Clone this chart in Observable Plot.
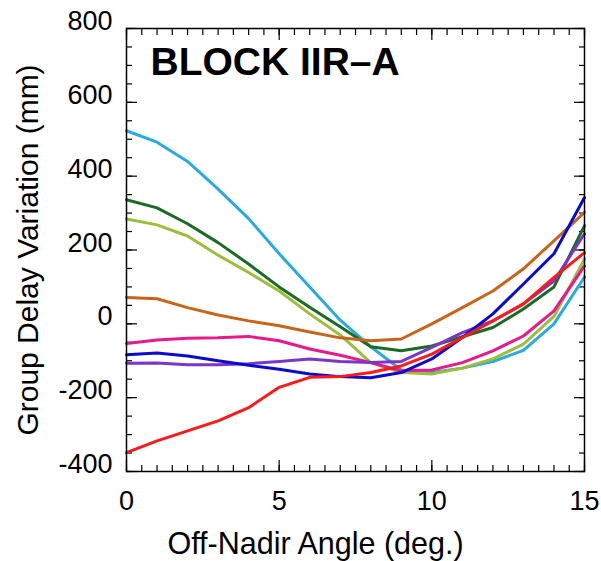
<!DOCTYPE html>
<html><head><meta charset="utf-8">
<script src="https://cdn.jsdelivr.net/npm/d3@7"></script>
<script src="https://cdn.jsdelivr.net/npm/@observablehq/plot@0.6"></script>
<style>body{margin:0;background:#fff} svg{display:block}</style>
</head><body><div id="chart"></div>
<script>
const angles = [0,1,2,3,4,5,6,7,8,9,10,11,12,13,14,15];
const cyanSeries   = [523, 492, 440, 365, 285, 190, 100, 10, -62, -125, -132, -120, -102, -72, 0, 127];
const dkGreenSeries= [336, 314, 271, 220, 162, 100, 45, -8, -62, -73, -60, -35, -10, 40, 100, 266];
const ylGreenSeries= [284, 268, 238, 186, 139, 89, 27, -30, -105, -132, -136, -120, -95, -55, 20, 176];
const orangeSeries = [71, 68, 44, 24, 8, -5, -22, -38, -46, -41, 0, 44, 89, 149, 225, 302];
const pinkSeries   = [-53, -44, -39, -38, -34, -46, -68, -85, -105, -127, -125, -105, -73, -33, 35, 157];
const purpleSeries = [-107, -106, -111, -111, -108, -102, -95, -102, -105, -102, -64, -24, 8, 54, 116, 244];
const blueSeries   = [-84, -79, -87, -100, -112, -123, -136, -143, -146, -132, -95, -37, 27, 108, 190, 342];
const redSeries    = [-349, -317, -290, -263, -227, -172, -145, -143, -132, -114, -82, -37, 8, 54, 126, 193];
const seriesNames  = ["cyan","dkgreen","ylgreen","orange","pink","purple","blue","red"];
const seriesValues = [cyanSeries, dkGreenSeries, ylGreenSeries, orangeSeries, pinkSeries, purpleSeries, blueSeries, redSeries];
const seriesColors = ["#29aae1","#1b6b22","#9bbf3b","#c8651b","#e8198a","#7a35c9","#0b0bd0","#ff1a1a"];
const xTickValues = [0,5,10,15];
const yTickValues = [-400,-200,0,200,400,600,800];
const chartTitle = "BLOCK IIR–A";
const xLabel = "Off-Nadir Angle (deg.)";
const yLabel = "Group Delay Variation (mm)";

const rows = [];
seriesNames.forEach((name, i) => {
  seriesValues[i].forEach((v, j) => rows.push({series: name, angle: angles[j], value: v}));
});
const xMinor = d3.range(0, 15.001, 0.5);
const yMinor = d3.range(-400, 800.001, 50);
const font = "'Liberation Sans', Arial, Helvetica, sans-serif";
const noText = () => "";

const chart = Plot.plot({
  width: 601, height: 561,
  marginLeft: 126, marginRight: 17, marginTop: 28, marginBottom: 90,
  style: {fontFamily: font, background: "#fff", color: "#000"},
  x: {domain: [0, 15]},
  y: {domain: [-400, 800]},
  color: {domain: seriesNames, range: seriesColors},
  marks: [
    Plot.axisX(xMinor, {anchor: "bottom", tickSize: -6, tickFormat: noText, label: null, strokeWidth: 1.2}),
    Plot.axisX(xMinor, {anchor: "top", tickSize: -6, tickFormat: noText, label: null, strokeWidth: 1.2}),
    Plot.axisX(xTickValues, {anchor: "bottom", tickSize: -11, tickFormat: noText, label: null, strokeWidth: 1.2}),
    Plot.axisX(xTickValues, {anchor: "top", tickSize: -11, tickFormat: noText, label: null, strokeWidth: 1.2}),
    Plot.axisX(xTickValues, {anchor: "bottom", tickSize: 0, tickPadding: 19, fontSize: 27, tickFormat: d => String(d), label: null}),
    Plot.axisY(yMinor, {anchor: "left", tickSize: -6, tickFormat: noText, label: null, strokeWidth: 1.2}),
    Plot.axisY(yMinor, {anchor: "right", tickSize: -6, tickFormat: noText, label: null, strokeWidth: 1.2}),
    Plot.axisY(yTickValues, {anchor: "left", tickSize: -11, tickFormat: noText, label: null, strokeWidth: 1.2}),
    Plot.axisY(yTickValues, {anchor: "right", tickSize: -11, tickFormat: noText, label: null, strokeWidth: 1.2}),
    Plot.axisY(yTickValues, {anchor: "left", tickSize: 0, tickPadding: 14, dy: -7, fontSize: 27, tickFormat: d => String(d), label: null}),
    Plot.lineY(rows, {x: "angle", y: "value", z: "series", stroke: "series", strokeWidth: 3}),
    Plot.frame({stroke: "#000", strokeWidth: 1.5}),
    Plot.text([chartTitle], {frameAnchor: "top-left", textAnchor: "start", lineAnchor: "top", dx: 24, dy: 19, fontSize: 39, fontWeight: "bold", fill: "#000"}),
    Plot.text([xLabel], {frameAnchor: "bottom", textAnchor: "middle", lineAnchor: "middle", dx: -40, dy: 73, fontSize: 30.5, fill: "#000"}),
    Plot.text([yLabel], {frameAnchor: "left", textAnchor: "middle", lineAnchor: "middle", rotate: -90, dx: -98, fontSize: 30, fill: "#000"})
  ]
});
document.getElementById("chart").appendChild(chart);
</script>
</body></html>
